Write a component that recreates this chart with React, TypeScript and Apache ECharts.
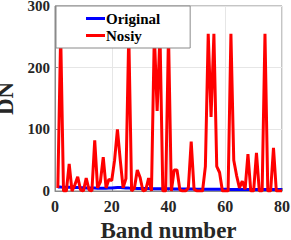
import React, { useEffect, useRef } from "react";
import * as echarts from "echarts";

const bands: number[] = Array.from({ length: 80 }, (_, i) => i + 1);

const originalValues: number[] = [
  6.5, 6.3, 6.2, 6, 6, 5.8, 5.6, 5.5, 5.3, 5.2,
  5, 5, 4.8, 4.7, 4.6, 4.5, 4.5, 4.6, 4.8, 5,
  5.4, 5.6, 5.5, 5.3, 5, 4.7, 4.5, 4.3, 4.2, 4.1,
  4, 3.9, 3.9, 3.8, 3.8, 3.7, 3.7, 3.6, 3.6, 3.5,
  3.5, 3.4, 3.4, 3.3, 3.3, 3.2, 3.2, 3.1, 3.1, 3,
  3, 3, 2.9, 2.9, 2.9, 2.8, 2.8, 2.8, 2.7, 2.7,
  2.7, 2.6, 2.6, 2.6, 2.5, 2.5, 2.5, 2.5, 2.4, 2.4,
  2.4, 2.4, 2.3, 2.3, 2.3, 2.3, 2.3, 2.3, 2.3, 2.3,
];

const noisyValues: number[] = [
  5, 255, 0, 0, 44, 0, 10, 23, 2, 0,
  21, 2, 0, 82, 5, 15, 55, 5, 19, 17,
  50, 100, 50, 5, 20, 255, 0, 5, 34, 22,
  0, 2, 21, 0, 255, 130, 255, 0, 0, 255,
  0, 34, 34, 2, 0, 0, 5, 80, 3, 0,
  0, 0, 40, 255, 120, 255, 40, 30, 0, 0,
  0, 255, 50, 25, 5, 16, 3, 60, 0, 0,
  62, 0, 0, 255, 0, 0, 70, 0, 0, 0,
];

const xTicks = { min: 0, max: 80, interval: 20 };
const yTicks = { min: 0, max: 300, interval: 100 };
const seriesNames = ["Original", "Nosiy"];
const axisTitles = { x: "Band number", y: "DN" };

export default function App() {
  const ref = useRef<HTMLDivElement>(null);

  useEffect(() => {
    if (!ref.current) return;
    const chart = echarts.init(ref.current, undefined, { renderer: "svg" });
    const font = "Liberation Serif";
    const axisColor = "#262626";
    chart.setOption({
      animation: false,
      backgroundColor: "#ffffff",
      textStyle: { fontFamily: font, fontWeight: "bold" },
      grid: {
        left: 55,
        right: 9,
        top: 6,
        bottom: 49,
        show: true,
        borderColor: "#8a8a8a",
        borderWidth: 1,
        containLabel: false,
        outerBoundsMode: "none",
      },
      legend: {
        data: seriesNames,
        orient: "vertical",
        left: 56,
        top: 6,
        padding: [5, 30, 5, 30],
        icon: "rect",
        itemWidth: 19,
        itemHeight: 3,
        itemGap: 2,
        backgroundColor: "#ffffff",
        borderColor: "#8a8a8a",
        borderWidth: 1,
        textStyle: {
          fontFamily: font,
          fontWeight: "bold",
          fontSize: 15,
          lineHeight: 15,
          color: "#000000",
          padding: [0, 0, 0, -4],
        },
      },
      xAxis: {
        type: "value",
        min: xTicks.min,
        max: xTicks.max,
        interval: xTicks.interval,
        name: axisTitles.x,
        nameLocation: "middle",
        nameGap: 25,
        nameTextStyle: {
          fontFamily: font,
          fontWeight: "bold",
          fontSize: 23,
          lineHeight: 18,
          color: axisColor,
        },
        axisLine: { show: true, onZero: false, lineStyle: { color: "#8a8a8a", width: 1 } },
        axisTick: { show: true, inside: true, length: 3, lineStyle: { color: "#8a8a8a" } },
        axisLabel: {
          fontFamily: font,
          fontWeight: "bold",
          fontSize: 16,
          color: axisColor,
          margin: 7,
        },
        splitLine: { show: true, lineStyle: { color: "#e6e6e6", width: 1 } },
      },
      yAxis: {
        type: "value",
        min: yTicks.min,
        max: yTicks.max,
        interval: yTicks.interval,
        name: axisTitles.y,
        nameLocation: "middle",
        nameGap: 21,
        nameRotate: 90,
        nameTextStyle: {
          fontFamily: font,
          fontWeight: "bold",
          fontSize: 23,
          lineHeight: 18,
          color: axisColor,
        },
        axisLine: { show: true, lineStyle: { color: "#8a8a8a", width: 1 } },
        axisTick: { show: true, inside: true, length: 3, lineStyle: { color: "#8a8a8a" } },
        axisLabel: {
          fontFamily: font,
          fontWeight: "bold",
          fontSize: 15,
          lineHeight: 11,
          color: axisColor,
          margin: 5,
        },
        splitLine: { show: true, lineStyle: { color: "#e6e6e6", width: 1 } },
      },
      series: [
        {
          name: seriesNames[0],
          type: "line",
          symbol: "none",
          data: bands.map((b, i) => [b, originalValues[i]]),
          lineStyle: { color: "#0000ff", width: 3 },
          itemStyle: { color: "#0000ff" },
          clip: true,
        },
        {
          name: seriesNames[1],
          type: "line",
          symbol: "none",
          data: bands.map((b, i) => [b, noisyValues[i]]),
          lineStyle: { color: "#ff0000", width: 3 },
          itemStyle: { color: "#ff0000" },
          clip: true,
        },
      ],
    });
    return () => chart.dispose();
  }, []);

  return (
    <div
      ref={ref}
      style={{ position: "fixed", left: 0, top: 0, width: 291, height: 240 }}
    />
  );
}
